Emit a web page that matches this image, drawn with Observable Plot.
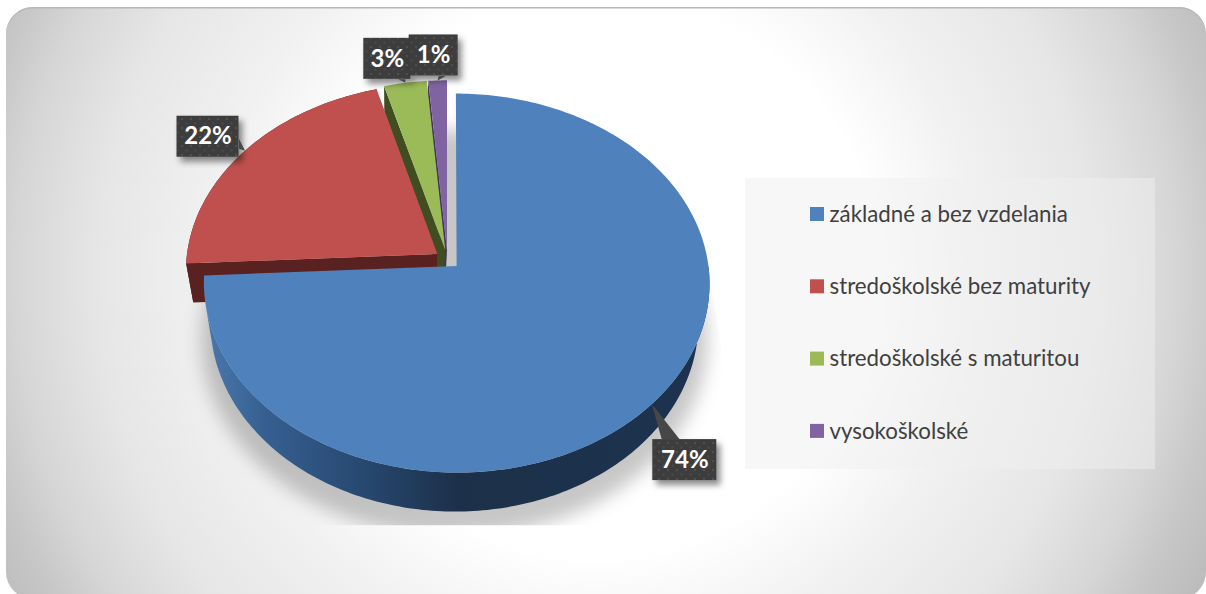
<!DOCTYPE html>
<html>
<head>
<meta charset="utf-8">
<script src="https://cdn.jsdelivr.net/npm/d3@7"></script>
<script src="https://cdn.jsdelivr.net/npm/@observablehq/plot@0.6"></script>
<style>
html,body{margin:0;padding:0;background:#fff;}
#page{position:relative;width:1206px;height:594px;overflow:hidden;}
#panel{position:absolute;left:6px;top:7px;width:1200px;height:592px;border-radius:27px;
  background:radial-gradient(circle at 590px 268px,#fff 0,#fff 280px,#f1f1f1 385px,#e6e6e6 500px,#d6d6d6 580px,#c8c8c8 625px,#bcbcbc 680px);
  box-shadow:inset 0 1.5px 0 #b8b8b8;}
#chart{position:absolute;left:0;top:0;}
</style>
</head>
<body>
<div id="page"><div id="panel"></div><div id="chart"></div></div>
<script>
// data
const categories = ["základné a bez vzdelania","stredoškolské bez maturity","stredoškolské s maturitou","vysokoškolské"];
const shares = [74.2, 21.5, 3.0, 1.3];
const colors = ["#4f81bd","#c0504d","#9bbb59","#8064a2"];
const wallColors = ["url(#rimBlue)","#5a2121","#3f4d20","#43345c"];

// layout of the tilted pie
const cx = 447, cy = 259, rx = 251, ry = 186.8, persp = 0.09, explode = 0.05;
const project = (X, Y, lower) => {
  const w = 1 + persp * Y;
  let sx = cx + rx * X / w, sy = cy - ry * Y / w;
  if (lower) { sx = cx + (sx - cx) * 0.965 - 2; sy += Y > 0 ? 39 - 12 * Y : 39; }
  return [sx, sy];
};
const rad = d => d * Math.PI / 180;
let start = 0;
const slices = categories.map((name, i) => {
  const a0 = start, a1 = start + shares[i] * 3.6;
  start = a1;
  const mid = (a0 + a1) / 2;
  return {name, i, a0, a1, mid, ex: explode * Math.sin(rad(mid)), ey: explode * Math.cos(rad(mid))};
});
const disc = (s, a, lower) => project(s.ex + Math.sin(rad(a)), s.ey + Math.cos(rad(a)), lower);
const arc = (s, lower, a0 = s.a0, a1 = s.a1) => {
  const n = Math.max(2, Math.ceil(a1 - a0));
  return d3.range(n + 1).map(j => disc(s, a0 + (a1 - a0) * j / n, lower));
};
const pts = p => p.map(([x, y]) => ({x, y}));
const poly = (p, fill, extra = {}) => Plot.line(pts(p), {x: "x", y: "y", fill, stroke: "none", curve: "linear", ...extra});

// faces
const topFace = s => [project(s.ex, s.ey, false), ...arc(s, false)];
const radialWall = (s, a) => [project(s.ex, s.ey, false), disc(s, a, false), disc(s, a, true), project(s.ex, s.ey, true)];
const rimWall = (s, a0 = s.a0, a1 = s.a1) => [...arc(s, false, a0, a1), ...arc(s, true, a0, a1).reverse()];

const topRows = slices.flatMap(s => topFace(s).map(([x, y]) => ({x, y, name: s.name})));
const shadowDisc = d3.range(0, 360, 2).map(a => {
  const [x, y] = project(0.02 + 1.03 * Math.sin(rad(a)), -0.1 + 1.03 * Math.cos(rad(a)), true);
  return [x + 4, y + 3];
});

// data labels, placed from the rim at each slice's middle
const boxOffset = [[33, 56], [-37, -14], [-18, -24], [-4, -25]];
const boxSize = [[64, 41], [62, 41], [47, 41], [49, 41]];
const tipBase = [[-23, -20.5, -5, -20.5], [31, 2, 31, 12], [11, 20.5, 18, 20.5], [5, 20.5, 12, 20.5]];
const labels = slices.map((s, i) => {
  const [tx, ty] = disc(s, s.mid, false);
  const bx = tx + boxOffset[i][0], by = ty + boxOffset[i][1];
  return {tx, ty, bx, by, w: boxSize[i][0], h: boxSize[i][1], base: tipBase[i],
          text: Math.round(shares[i]) + "%"};
});
const labelOrder = [0, 1, 2, 3].map(i => labels[i]);
const tipShape = l => [[l.tx, l.ty], [l.bx + l.base[0], l.by + l.base[1]], [l.bx + l.base[2], l.by + l.base[3]]];

// legend
const legendY = i => 214 + i * 72.3;

const defs = () => {
  const g = document.createElementNS("http://www.w3.org/2000/svg", "defs");
  g.innerHTML = `
    <linearGradient id="rimBlue" gradientUnits="userSpaceOnUse" x1="205" y1="0" x2="709" y2="0">
      <stop offset="0" stop-color="#4a78ac"/>
      <stop offset="0.12" stop-color="#365f90"/>
      <stop offset="0.3" stop-color="#284a72"/>
      <stop offset="0.5" stop-color="#1c3049"/>
      <stop offset="1" stop-color="#1c334f"/>
    </linearGradient>
    <pattern id="dots" patternUnits="userSpaceOnUse" width="9" height="9">
      <rect width="9" height="9" fill="#3d3d3d"/>
      <circle cx="2" cy="2" r="1" fill="#565656"/>
      <circle cx="6.5" cy="6.5" r="1" fill="#4d4d4d"/>
    </pattern>
    <clipPath id="shadowClip">
      <polygon points="190,262 447,112 500,112 708,262 727,390 727,525 176,525 176,322"/>
    </clipPath>`;
  return g;
};

const withClip = (index, scales, values, dims, ctx, next) => {
  const g = next(index, scales, values, dims, ctx);
  g.setAttribute("clip-path", "url(#shadowClip)");
  return g;
};

const plot = Plot.plot({
  width: 1206, height: 594,
  margin: 0,
  style: {background: "transparent"},
  x: {domain: [0, 1206], range: [0, 1206], axis: null},
  y: {domain: [0, 594], range: [0, 594], axis: null},
  color: {domain: categories, range: colors},
  marks: [
    defs,
    // pie shadow
    poly(shadowDisc, "#000", {fillOpacity: 0.22, imageFilter: "blur(9px)", render: withClip}),
    // legend panel
    Plot.rect([0], {x1: () => 745, x2: () => 1155, y1: () => 178, y2: () => 469, fill: "#f0f0f0", fillOpacity: 0.5}),
    // walls, far ones first
    poly(radialWall(slices[3], slices[3].a0), wallColors[3]),
    poly(radialWall(slices[2], slices[2].a0), wallColors[2]),
    poly(rimWall(slices[1]), wallColors[1]),
    poly(radialWall(slices[1], slices[1].a0), wallColors[1]),
    poly(topFace(slices[3]), colors[3]),
    poly(topFace(slices[2]), colors[2]),
    poly(topFace(slices[1]), colors[1]),
    poly(rimWall(slices[0], 90, 258), wallColors[0]),
    Plot.line(topRows.filter(d => d.name === categories[0]), {x: "x", y: "y", fill: "name", stroke: "none", curve: "linear"}),
    // data labels
    ...labelOrder.flatMap(l => [
      Plot.rect([l], {x1: d => d.bx - d.w / 2 + 4, x2: d => d.bx + d.w / 2 + 4, y1: d => d.by - d.h / 2 + 5, y2: d => d.by + d.h / 2 + 5,
        fill: "#000", fillOpacity: 0.45, imageFilter: "blur(3px)"}),
      poly(tipShape(l), "#474747"),
      Plot.rect([l], {x1: d => d.bx - d.w / 2, x2: d => d.bx + d.w / 2, y1: d => d.by - d.h / 2, y2: d => d.by + d.h / 2, fill: "url(#dots)"}),
      Plot.text([l], {x: "bx", y: "by", text: "text", fill: "#fff", fontSize: 24, fontWeight: 700, fontFamily: "Lato, sans-serif"})
    ]),
    // legend
    Plot.rect(categories, {x1: () => 810, x2: () => 824, y1: (d, i) => legendY(i) - 7, y2: (d, i) => legendY(i) + 7, fill: d => d}),
    Plot.text(categories, {x: () => 829, y: (d, i) => legendY(i), text: d => d, textAnchor: "start", fill: "#404040",
      fontSize: 22.3, fontFamily: "Lato, sans-serif"})
  ]
});
document.getElementById("chart").appendChild(plot);
</script>
</body>
</html>
